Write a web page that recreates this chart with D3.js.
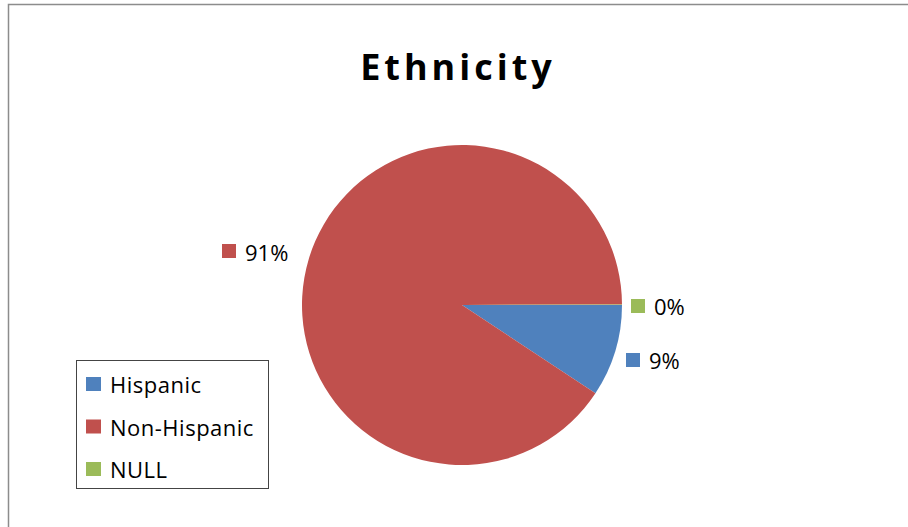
<!DOCTYPE html>
<html><head><meta charset="utf-8">
<script src="https://cdn.jsdelivr.net/npm/d3@7"></script>
<style>body{margin:0;background:#fff}svg{display:block}</style>
</head><body>
<svg id="c" width="908" height="527"></svg>
<script>
const categories = ["Hispanic", "Non-Hispanic", "NULL"];
const values = [9.3, 90.65, 0.05];
const labels = ["9%", "91%", "0%"];
const colors = ["#4F81BD", "#C0504D", "#9BBB59"];

const svg = d3.select("#c");
const font = "'Open Sans', 'Liberation Sans', sans-serif";

// chart border (top and left visible)
svg.append("path").attr("d", "M8.5,527 V4.5 H908").attr("fill", "none").attr("stroke", "#8c8c8c").attr("stroke-width", 1.5);

svg.append("text").attr("x", 458).attr("y", 80).attr("text-anchor", "middle")
  .attr("font-family", font).attr("font-weight", "bold").attr("font-size", 36)
  .attr("letter-spacing", 4).attr("fill", "#000").text("Ethnicity");

const cx = 462, cy = 305, r = 160;
const pie = d3.pie().sort(null).startAngle(Math.PI / 2).endAngle(Math.PI / 2 + 2 * Math.PI);
const arcs = pie(values);
const arc = d3.arc().innerRadius(0).outerRadius(r);
const g = svg.append("g").attr("transform", `translate(${cx},${cy})`);
g.selectAll("path").data(arcs).join("path").attr("d", arc).attr("fill", (d, i) => colors[i]);

// data labels: [square x, square y, text x, baseline]
const labelPos = [[626, 353, 649, 369], [222, 244, 245, 261], [631, 299, 654, 315]];
labels.forEach((t, i) => {
  const p = labelPos[i];
  svg.append("rect").attr("x", p[0]).attr("y", p[1]).attr("width", 14).attr("height", 14).attr("fill", colors[i]);
  svg.append("text").attr("x", p[2]).attr("y", p[3]).attr("font-family", font).attr("font-size", 22).attr("fill", "#000").text(t);
});

// legend
svg.append("rect").attr("x", 76.5).attr("y", 360.5).attr("width", 192).attr("height", 128)
  .attr("fill", "#fff").attr("stroke", "#444").attr("stroke-width", 1);
categories.forEach((c, i) => {
  const y = 377 + i * 42.5;
  svg.append("rect").attr("x", 86).attr("y", y).attr("width", 15).attr("height", 14).attr("fill", colors[i]);
  svg.append("text").attr("x", 110).attr("y", y + 16).attr("font-family", font).attr("font-size", 22)
    .attr("letter-spacing", 0.5).attr("fill", "#000").text(c);
});
</script>
</body></html>
